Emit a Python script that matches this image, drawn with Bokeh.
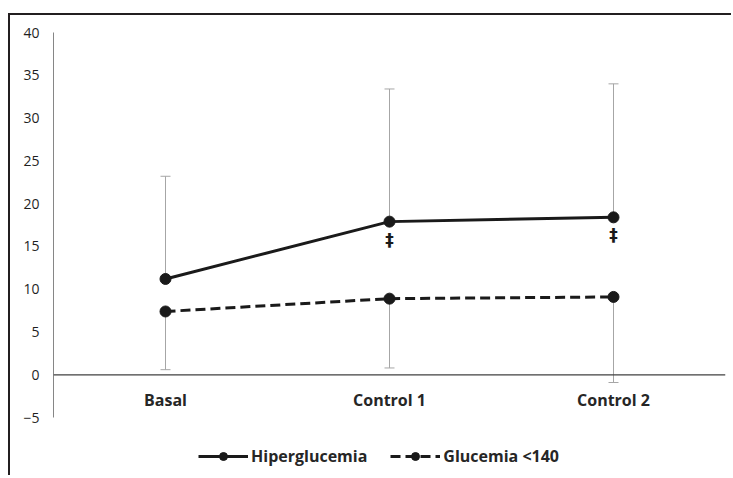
from bokeh.plotting import figure
from bokeh.models import (ColumnDataSource, Range1d, FactorRange, FixedTicker, Span,
                          Whisker, TeeHead, Legend, LegendItem)
from bokeh.core.properties import value
from bokeh.embed import file_html
from bokeh.resources import INLINE

categories = ["Basal", "Control 1", "Control 2"]
hiper_mean = [11.2, 17.9, 18.4]
hiper_sd = [12.0, 15.5, 15.6]
gluc_mean = [7.4, 8.9, 9.1]
gluc_sd = [6.8, 8.1, 10.0]
dagger_marks = ["\u2021", "\u2021"]
dagger_cats = ["Control 1", "Control 2"]
dagger_y = [17.9, 18.4]
y_ticks = [-5, 0, 5, 10, 15, 20, 25, 30, 35, 40]

FONT = "Open Sans"
TXT = "#262626"
LINE = "#1a1a1a"
ERR = "#a6a6a6"

p = figure(x_range=FactorRange(*categories, range_padding=0),
           y_range=Range1d(-12, 40),
           width=723, height=462, output_backend="svg", toolbar_location=None,
           min_border_left=43, min_border_right=8, min_border_top=17, min_border_bottom=0,
           margin=(13, 0, 0, 8))
p.styles = {"border-top": "2px solid #231f20", "border-left": "2px solid #231f20"}
p.outline_line_color = None
p.xgrid.visible = False
p.ygrid.visible = False

# y axis
p.yaxis.ticker = FixedTicker(ticks=y_ticks)
p.yaxis.bounds = (-5, 40)
p.yaxis.axis_line_color = "#868686"
p.yaxis.major_tick_line_color = None
p.yaxis.major_tick_out = 0
p.yaxis.minor_tick_line_color = None
p.yaxis.major_label_standoff = 14
p.yaxis.major_label_text_font = FONT
p.yaxis.major_label_text_font_size = "14px"
p.yaxis.major_label_text_color = "#1f1f1f"

# x axis: drawn crossing at y = 0, category labels under it
p.xaxis.visible = False
p.add_layout(Span(location=0, dimension="width", line_color="#404040", line_width=1.2))
p.text(x=categories, y=[0] * len(categories), text=categories, text_align="center",
       text_baseline="middle", y_offset=25, text_font=value(FONT), text_font_style="bold",
       text_font_size="16px", text_color=TXT)

# error bars
hsrc = ColumnDataSource(dict(x=categories, lower=hiper_mean,
                             upper=[m + s for m, s in zip(hiper_mean, hiper_sd)]))
gsrc = ColumnDataSource(dict(x=categories, upper=gluc_mean,
                             lower=[m - s for m, s in zip(gluc_mean, gluc_sd)]))
p.add_layout(Whisker(base="x", lower="lower", upper="upper", source=hsrc, dimension="height",
                     line_color=ERR, line_width=1, lower_head=None,
                     upper_head=TeeHead(size=10, line_color=ERR, line_width=1)))
p.add_layout(Whisker(base="x", lower="lower", upper="upper", source=gsrc, dimension="height",
                     line_color=ERR, line_width=1, upper_head=None,
                     lower_head=TeeHead(size=10, line_color=ERR, line_width=1)))

# series
l1 = p.line(categories, hiper_mean, line_color=LINE, line_width=3)
c1 = p.scatter(categories, hiper_mean, size=11, fill_color=LINE, line_color=LINE)
l2 = p.line(categories, gluc_mean, line_color=LINE, line_width=3, line_dash="10 5")
c2 = p.scatter(categories, gluc_mean, size=11, fill_color=LINE, line_color=LINE)

p.text(x=dagger_cats, y=dagger_y, text=dagger_marks, text_align="center",
       text_baseline="middle", y_offset=18, text_font=value("DejaVu Sans"),
       text_font_style="bold", text_font_size="17px", text_color=LINE)

legend = Legend(items=[LegendItem(label="Hiperglucemia", renderers=[l1, c1]),
                       LegendItem(label="Glucemia <140", renderers=[l2, c2])],
                orientation="horizontal", location=(145, 10),
                border_line_color=None, background_fill_alpha=0,
                label_text_font=FONT, label_text_font_style="bold",
                label_text_font_size="16px", label_text_color=TXT,
                glyph_width=50, glyph_height=20, label_standoff=3, spacing=23,
                padding=0, margin=0)
p.add_layout(legend)

open("out.html", "w").write(file_html(p, INLINE))
